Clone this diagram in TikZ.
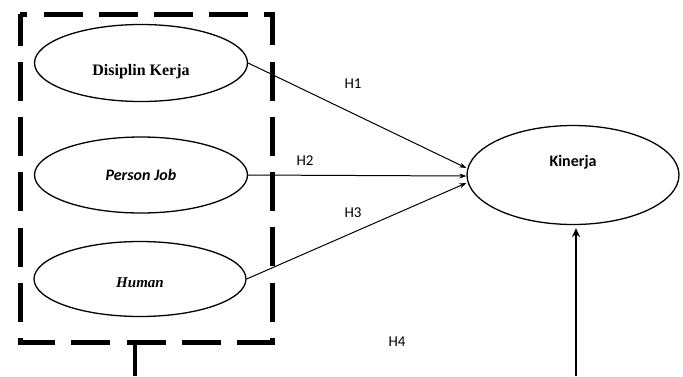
\documentclass[tikz,border=0pt]{standalone}
\usepackage{fontspec}
\setmainfont{Liberation Serif}
\newfontfamily\calib{Carlito}
\usetikzlibrary{shapes.geometric,arrows.meta}
\begin{document}
\begin{tikzpicture}[x=1pt,y=1pt,
  oval/.style={draw, ellipse, line width=1.3pt, inner sep=0pt},
  grpbox/.style={draw, line width=5pt, dash pattern=on 39pt off 16.24pt, dash phase=7.3pt},
  link/.style={line width=1pt, -{Stealth[length=7pt,width=5pt]}},
  hlab/.style={font=\calib\fontsize{15}{18}\selectfont, inner sep=0pt}]
\useasboundingbox (0,0) rectangle (683,-376);
% group box
\coordinate (b1) at (20,-14);
\coordinate (b2) at (20,-342);
\coordinate (b3) at (272,-342);
\coordinate (b4) at (272,-14);
\draw[grpbox] (b1) -- (b2) -- (b3) -- (b4) -- cycle;
% ellipses
\node[oval, minimum width=213pt, minimum height=77pt,
  label={[yshift=-9pt,font=\bfseries\fontsize{16}{19}\selectfont]center:Disiplin Kerja}] (dk) at (141,-63) {};
\node[oval, minimum width=213pt, minimum height=76pt,
  label={[font=\calib\bfseries\itshape\fontsize{16}{19}\selectfont]center:Person Job}] (pj) at (141,-175) {};
\node[oval, minimum width=212pt, minimum height=75pt,
  label={[yshift=-4pt,font=\bfseries\itshape\fontsize{15}{18}\selectfont]center:Human}] (hu) at (140,-279) {};
\node[oval, minimum width=212pt, minimum height=99pt,
  label={[yshift=13pt,font=\calib\bfseries\fontsize{16}{19}\selectfont]center:Kinerja}] (kin) at (573,-175) {};
% connectors
\draw[link] (dk.east) -- ([yshift=7pt]kin.west);
\draw[link] (pj.east) -- ([yshift=-1pt]kin.west);
\draw[link] (hu.east) -- ([yshift=-8pt]kin.west);
\coordinate (g4) at (135,-342);
\coordinate (g4end) at (135,-376);
\draw[line width=3.5pt] (g4) -- (g4end);
\coordinate (h4start) at (576,-376);
\draw[line width=2pt, -{Stealth[length=9pt,width=8pt]}] (h4start) -- ([xshift=3pt,yshift=-3pt]kin.south);
% labels
\node[hlab] (l1) at (353,-84) {H1};
\node[hlab] (l2) at (305,-161) {H2};
\node[hlab] (l3) at (353,-213) {H3};
\node[hlab] (l4) at (397,-342) {H4};
\end{tikzpicture}
\end{document}
